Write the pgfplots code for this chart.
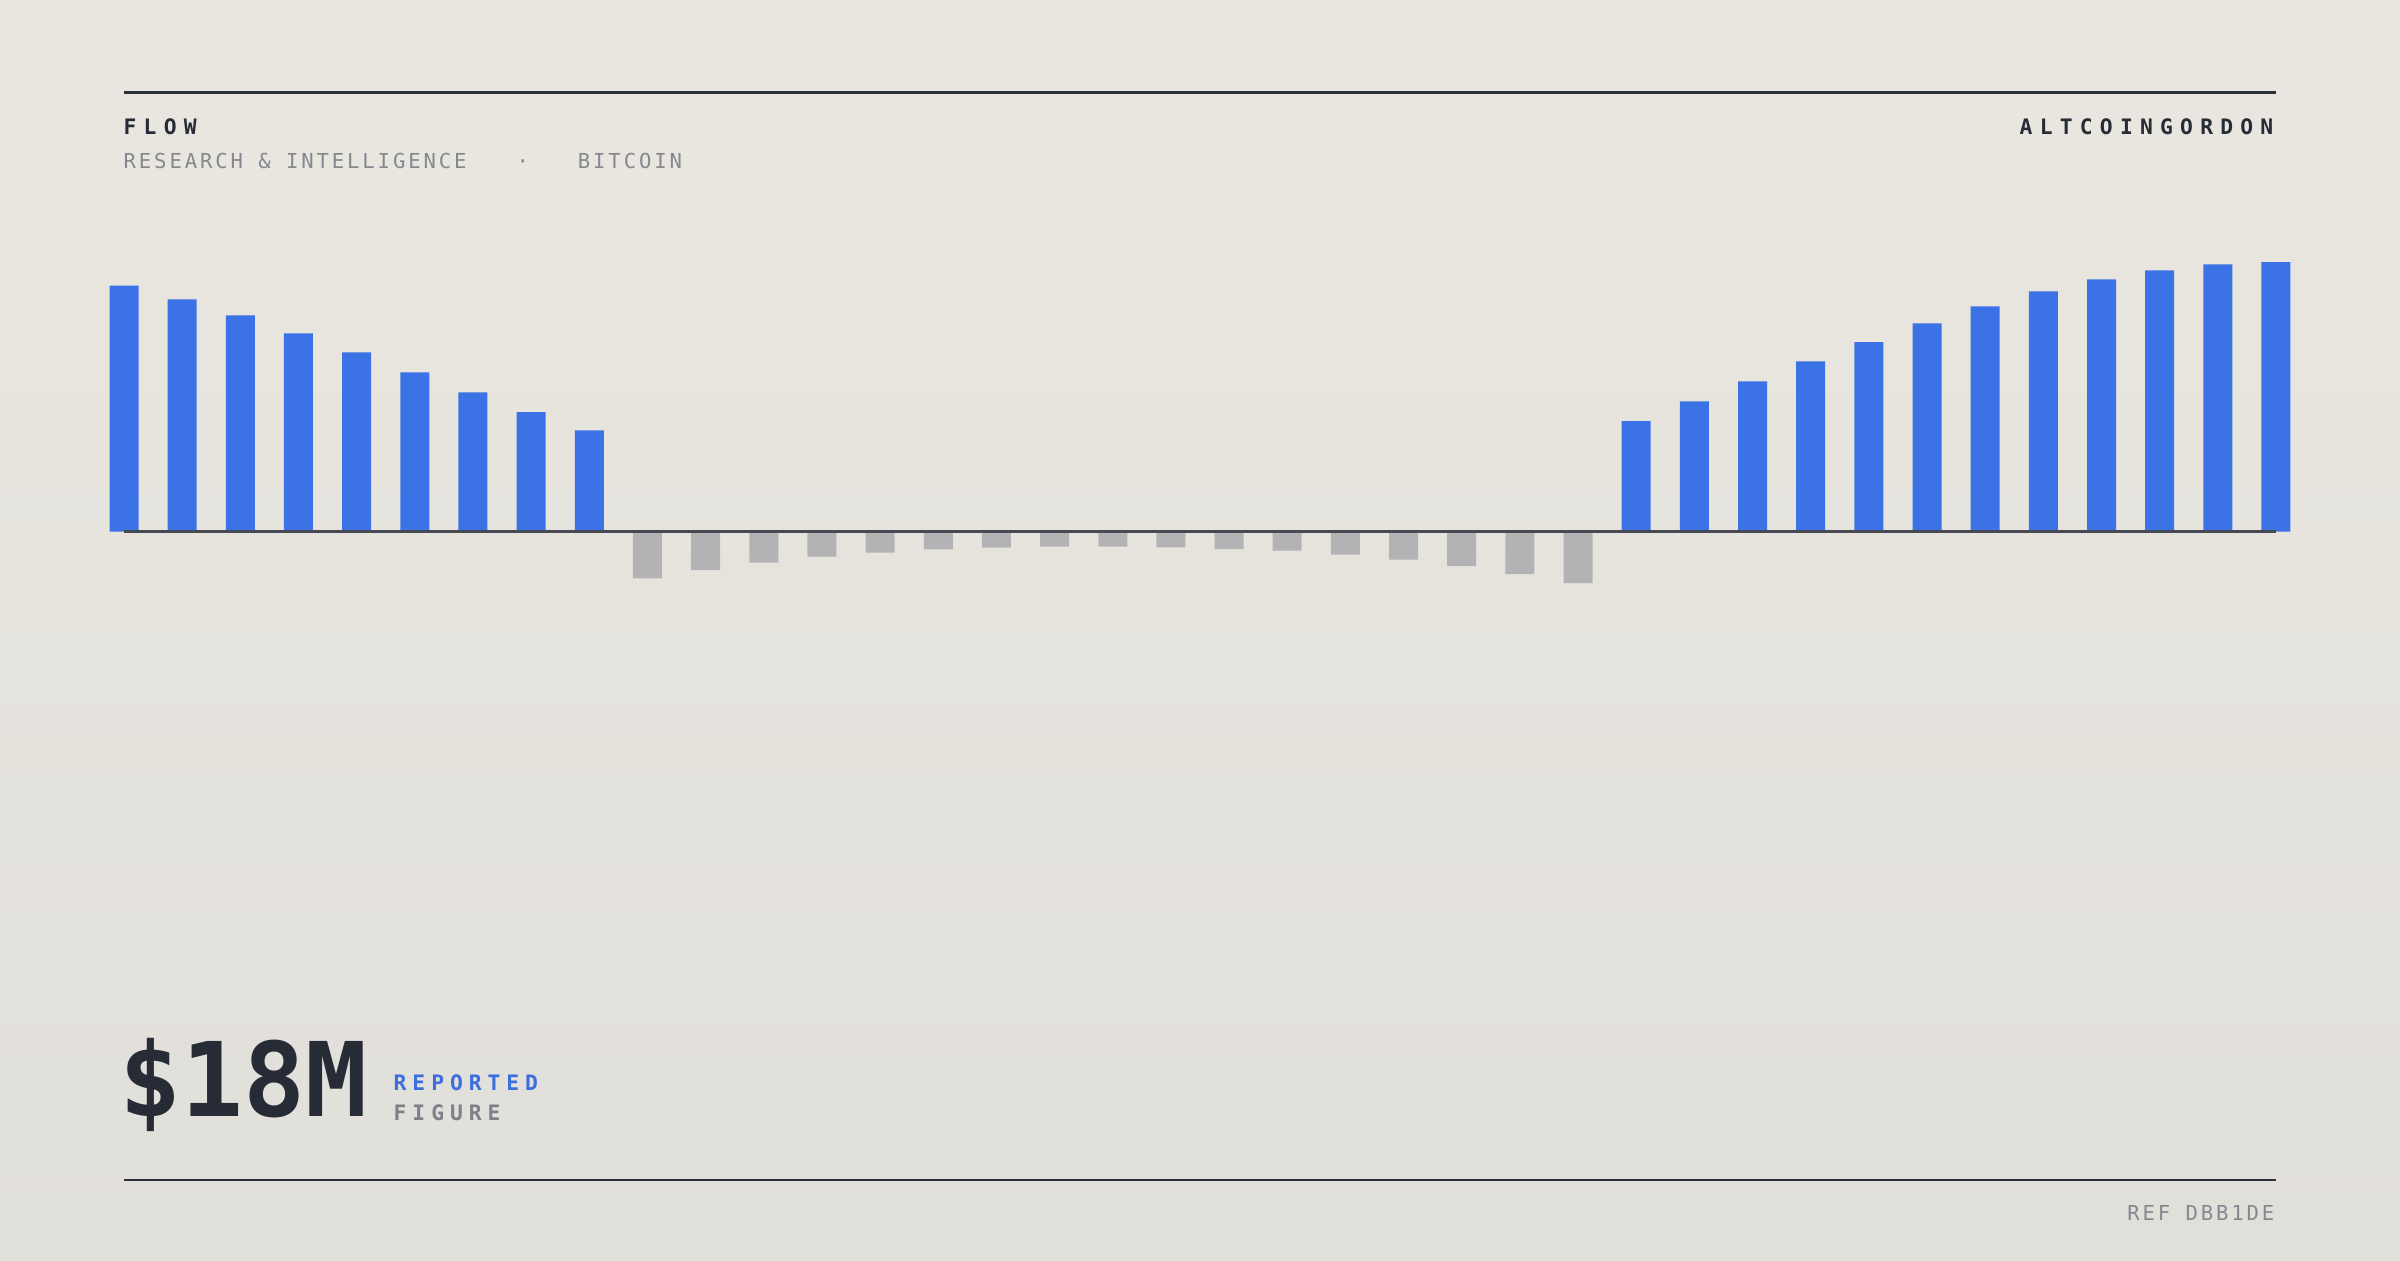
\documentclass[border=0pt]{standalone}
\usepackage{pgfplots}
\pgfplotsset{compat=1.18}
\usepackage{fontspec}
\setmainfont{DejaVu Sans Mono}
\newfontfamily\trackR[LetterSpace=14]{DejaVu Sans Mono}
\newfontfamily\trackB[LetterSpace=34]{DejaVu Sans Mono}
\newfontfamily\trackL[LetterSpace=28]{DejaVu Sans Mono}
\newfontfamily\bigmono{DejaVu Sans Mono}
\definecolor{bgtop}{HTML}{EAE7E0}
\definecolor{bgbot}{HTML}{E1DFDA}
\definecolor{ink}{HTML}{272B35}
\definecolor{rule}{HTML}{2B2F38}
\definecolor{baseln}{HTML}{474A52}
\definecolor{flowblue}{HTML}{3B73E6}
\definecolor{flowgray}{HTML}{B3B3B5}
\definecolor{muted}{HTML}{868890}
\definecolor{labblue}{HTML}{3B6FE0}
\definecolor{labgray}{HTML}{7E8088}

\begin{document}
\begin{tikzpicture}[x=0.1mm,y=0.1mm]
% background, 2400 x 1260 units
\shade[top color=bgtop,bottom color=bgbot] (0,0) rectangle (2400,1260);

% header / footer rules
\draw[rule,line width=0.27mm] (124,1167.7) -- (2276,1167.7);
\draw[rule,line width=0.27mm] (124,80) -- (2276,80);

% header text
\node[anchor=base west,inner sep=0,text=ink] at (123,1125)
  {\fontsize{6.06pt}{7pt}\selectfont\trackB\bfseries FLOW};
\node[anchor=base west,inner sep=0,text=muted] at (123,1091.7)
  {\fontsize{5.86pt}{7pt}\selectfont\trackR RESEARCH \& INTELLIGENCE\hspace{5.0mm}·\hspace{4.9mm}BITCOIN};
\node[anchor=base east,inner sep=0,text=ink] at (2274,1125)
  {\fontsize{6.06pt}{7pt}\selectfont\trackB\bfseries ALTCOINGORDON};

% big figure
\node[anchor=base west,inner sep=0,text=ink] at (118.5,143.3)
  {\fontsize{29.3pt}{32pt}\selectfont\bigmono\bfseries \$18M};
\node[anchor=base west,inner sep=0,text=labblue] at (393,170)
  {\fontsize{6.06pt}{7pt}\selectfont\trackL\bfseries REPORTED};
\node[anchor=base west,inner sep=0,text=labgray] at (393,140)
  {\fontsize{6.06pt}{7pt}\selectfont\trackL\bfseries FIGURE};

% footer ref
\node[anchor=base east,inner sep=0,text=muted] at (2275,40)
  {\fontsize{5.86pt}{7pt}\selectfont\trackR REF DBB1DE};

\begin{axis}[
    at={(12.4mm,62.83mm)},
    anchor=south west,
    scale only axis,
    width=215.2mm,
    height=40mm,
    xmin=0, xmax=37,
    ymin=-10, ymax=30,
    axis lines=none,
    ticks=none,
    clip=false
]
% inflows
\addplot[ybar,bar width=2.9mm,fill=flowblue,draw=none] coordinates {
    (0,24.60) (1,23.24) (2,21.64) (3,19.84) (4,17.94) (5,15.94) (6,13.94)
    (7,11.97) (8,10.14)
    (26,11.07) (27,13.04) (28,15.04) (29,17.04) (30,18.97) (31,20.84)
    (32,22.54) (33,24.04) (34,25.24) (35,26.14) (36,26.74) (37,26.97)
};
% outflows
\addplot[ybar,bar width=2.9mm,fill=flowgray,draw=none] coordinates {
    (9,-4.66) (10,-3.83) (11,-3.10) (12,-2.50) (13,-2.10) (14,-1.76)
    (15,-1.60) (16,-1.50) (17,-1.50) (18,-1.56) (19,-1.73) (20,-1.90)
    (21,-2.30) (22,-2.80) (23,-3.43) (24,-4.23) (25,-5.13)
};
% zero line
\draw[baseln,line width=0.27mm] (axis cs:0,0) -- (axis cs:37,0);
\end{axis}
\end{tikzpicture}
\end{document}
